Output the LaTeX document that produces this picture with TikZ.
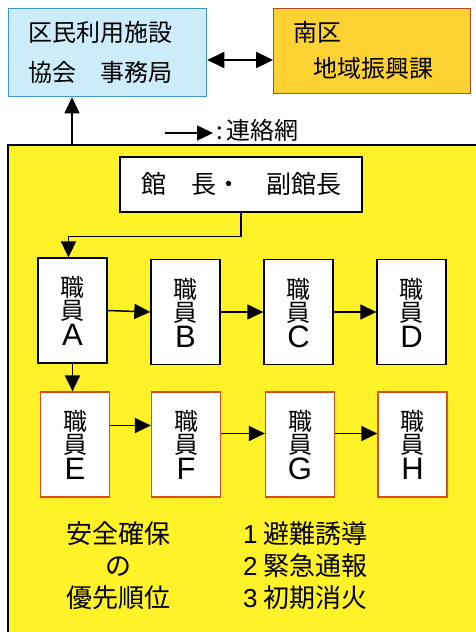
\documentclass[tikz,border=0pt]{standalone}
\usepackage{fontspec}
\setmainfont{Noto Sans CJK JP}
\newfontfamily\lat{Liberation Sans}
\usetikzlibrary{arrows.meta,calc}
\definecolor{bluefill}{RGB}{205,236,250}
\definecolor{blueline}{RGB}{60,150,210}
\definecolor{orangefill}{RGB}{252,210,50}
\definecolor{orangeline}{RGB}{190,70,40}
\definecolor{yel}{RGB}{255,242,40}
\definecolor{redline}{RGB}{225,75,30}
\tikzset{
  arr/.style={line width=1.5pt,-{Triangle[length=16pt,width=15pt]}},
  dblarr/.style={line width=2.4pt,{Triangle[length=17pt,width=16pt]}-{Triangle[length=17pt,width=16pt]}},
  jp/.style={font=\fontsize{24}{24}\selectfont, inner sep=0pt},
  staff/.style={draw=black, line width=1.3pt, fill=white, minimum width=69pt, minimum height=105pt, inner sep=0pt},
  staffr/.style={staff, draw=redline},
  stxt/.style={font=\fontsize{24}{24}\selectfont, inner sep=0pt, text height=20pt, text depth=2pt},
  sltr/.style={font=\lat\fontsize{31}{31}\selectfont, inner sep=0pt, text height=22pt, text depth=0pt},
}
\newcommand{\staffbox}[4]{%
  \node[#1] (#2) at (#3) {};
  \node[stxt] (#2a) at ([yshift=23pt]#2.center) {職};
  \node[stxt] (#2b) at ([yshift=0pt]#2.center) {員};
  \node[sltr] (#2c) at ([yshift=-24pt]#2.center) {#4};
}
\begin{document}
\begin{tikzpicture}[x=1pt,y=-1pt]
\useasboundingbox (0,0) rectangle (476,632);
% top boxes
\node[draw=blueline, fill=bluefill, line width=1.3pt, minimum width=198pt, minimum height=88pt, anchor=north west, inner sep=0pt] (jimu) at (8,8) {};
\node[jp, anchor=west] (jimu1) at (28,32) {区民利用施設};
\node[jp, anchor=west] (jimu2) at (28,72) {協会　事務局};
\node[draw=orangeline, fill=orangefill, line width=1.3pt, minimum width=197pt, minimum height=85pt, anchor=north west, inner sep=0pt] (minami) at (273,8) {};
\node[jp, anchor=west] (minami1) at (293,32) {南区};
\node[jp, anchor=west] (minami2) at (313,68) {地域振興課};
\draw[dblarr] (jimu.east |- 0,60) -- (minami.west |- 0,60);
% legend
\coordinate (lg1) at (165,133);
\coordinate (lg2) at (213,133);
\draw[arr] (lg1) -- (lg2);
\node[jp, anchor=west] (legend) at (216,130) {:\hspace{4pt}連絡網};
% yellow area
\fill[yel] (8,145) rectangle (476,632);
\draw[line width=2pt] (8,632) -- (8,145) -- (476,145);
\coordinate (up) at (72,145);
\draw[arr] (up) -- (up |- jimu.south);
% kancho
\node[draw=black, line width=1.3pt, fill=white, minimum width=242pt, minimum height=55pt, inner sep=0pt, font=\fontsize{25}{25}\selectfont] (kancho) at (241,184.5) {館　長・　副館長};
% staff rows
\staffbox{staff}{A}{72.5,310.5}{A}
\staffbox{staff}{B}{185.5,312}{B}
\staffbox{staff}{C}{298.5,312}{C}
\staffbox{staff}{D}{411.5,312}{D}
\staffbox{staffr}{E}{75,444.5}{E}
\staffbox{staffr}{F}{186,444.5}{F}
\staffbox{staffr}{G}{300,444.5}{G}
\staffbox{staffr}{H}{412.5,444.5}{H}
\draw[arr] (kancho.south) -- ++(0,24) -| ([xshift=-4pt]A.north);
\draw[arr] (A.east) -- (B.west);
\draw[arr] (B.east) -- (C.west);
\draw[arr] (C.east) -- (D.west);
\draw[arr] (A.south) -- (A.south |- E.north);
\draw[arr] ([yshift=19pt]E.east) -- ([yshift=19pt]F.west);
\draw[arr] ([yshift=11pt]F.east) -- ([yshift=11pt]G.west);
\draw[arr] ([yshift=11pt]G.east) -- ([yshift=11pt]H.west);
% bottom texts
\node[font=\fontsize{26}{32}\selectfont, align=center, inner sep=0pt] (prio) at (118,566) {安全確保\\の\\優先順位};
\node[font=\fontsize{26}{32}\selectfont, align=left, inner sep=0pt, anchor=west] (list) at (243,566) {{\lat 1} 避難誘導\\{\lat 2} 緊急通報\\{\lat 3} 初期消火};
\end{tikzpicture}
\end{document}
